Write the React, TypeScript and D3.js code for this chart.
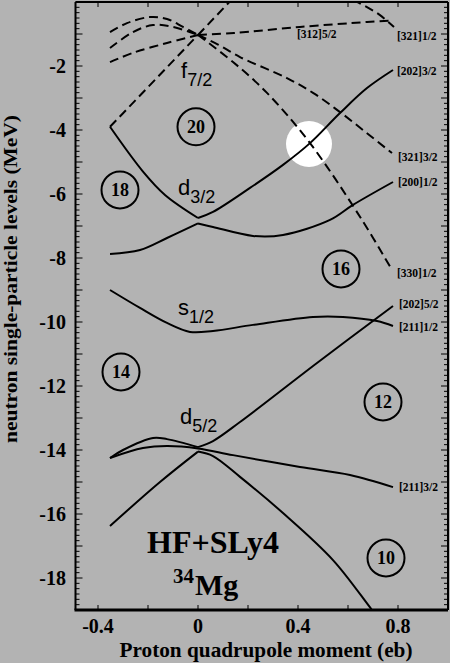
import React from 'react';
import * as d3 from 'd3';

type P = [number, number];

// ---- data: neutron single-particle levels (Q in eb, E in MeV) ----
const f72_330_12: P[] = [[-0.352, -0.94], [-0.284, -0.66], [-0.192, -0.47], [-0.124, -0.53], [-0.06, -0.78], [0, -1.03], [0.14, -1.875], [0.276, -2.84], [0.448, -4.41], [0.656, -6.81], [0.776, -8.375]];
const f72_321_32: P[] = [[-0.352, -1.44], [-0.26, -0.94], [-0.18, -0.72], [-0.1, -0.78], [0, -1.03], [0.08, -1.33], [0.168, -1.72], [0.356, -2.38], [0.46, -2.84], [0.568, -3.44], [0.676, -4.1], [0.776, -4.72]];
const f72_312_52: P[] = [[-0.352, -1.88], [-0.26, -1.59], [-0.124, -1.28], [0, -1.03], [0.144, -0.97], [0.408, -0.78], [0.676, -0.625], [0.776, -0.58]];
const f72_303_72: P[] = [[-0.352, -3.9], [0, -1.03], [0.15, 0.2]];
const p_321_12: P[] = [[0.568, 0.25], [0.62, 0.06], [0.676, -0.16], [0.728, -0.41], [0.784, -0.78]];
const d32_202_32: P[] = [[-0.352, -3.9], [-0.22, -5.3], [-0.132, -6.03], [0, -6.75], [0.06, -6.56], [0.208, -5.81], [0.34, -5.09], [0.448, -4.41], [0.568, -3.47], [0.676, -2.69], [0.78, -2.125]];
const d32_200_12: P[] = [[-0.352, -7.875], [-0.232, -7.75], [-0.124, -7.375], [0, -6.92], [0.06, -7.03], [0.22, -7.31], [0.34, -7.28], [0.528, -6.81], [0.62, -6.34], [0.78, -5.625]];
const s12_211_12: P[] = [[-0.352, -9.0], [-0.232, -9.56], [-0.124, -10.03], [-0.032, -10.31], [0.06, -10.28], [0.22, -10.09], [0.46, -9.84], [0.58, -9.84], [0.716, -9.97], [0.78, -10.125]];
const d52_202_52: P[] = [[-0.352, -14.25], [-0.3, -14.0], [-0.18, -13.625], [-0.124, -13.66], [0, -13.91], [0.06, -13.72], [0.168, -13.125], [0.476, -11.28], [0.78, -9.5]];
const d52_211_32: P[] = [[-0.352, -14.25], [-0.22, -13.94], [-0.124, -13.875], [0, -13.95], [0.14, -14.16], [0.408, -14.53], [0.608, -14.78], [0.78, -15.16]];
const d52_220_12: P[] = [[-0.352, -16.375], [-0.152, -15.0], [0, -14.05], [0.06, -14.19], [0.168, -14.84], [0.34, -15.97], [0.54, -17.44], [0.696, -19.0], [0.75, -19.54]];

const levels = [
  { pts: f72_330_12, dashed: true, kink: true },
  { pts: f72_321_32, dashed: true, kink: true },
  { pts: f72_312_52, dashed: true, kink: true },
  { pts: f72_303_72, dashed: true, kink: true },
  { pts: p_321_12, dashed: true, kink: false },
  { pts: d32_202_32, dashed: false, kink: true },
  { pts: d32_200_12, dashed: false, kink: true },
  { pts: s12_211_12, dashed: false, kink: false },
  { pts: d52_202_52, dashed: false, kink: true },
  { pts: d52_211_32, dashed: false, kink: false },
  { pts: d52_220_12, dashed: false, kink: true },
];

const nilssonLabels: [string, number, number][] = [
  ['[312]5/2', 0.396, -1.125],
  ['[321]1/2', 0.796, -1.19],
  ['[202]3/2', 0.796, -2.28],
  ['[321]3/2', 0.8, -4.97],
  ['[200]1/2', 0.8, -5.75],
  ['[330]1/2', 0.796, -8.59],
  ['[202]5/2', 0.804, -9.56],
  ['[211]1/2', 0.804, -10.28],
  ['[211]3/2', 0.804, -15.28],
];

const shellLabels: [string, string, number, number][] = [
  ['f', '7/2', -0.068, -2.375],
  ['d', '3/2', -0.08, -6.03],
  ['s', '1/2', -0.08, -9.78],
  ['d', '5/2', -0.072, -13.19],
];

const magicNumbers: [string, number, number][] = [
  ['20', -0.008, -3.9],
  ['18', -0.312, -5.875],
  ['16', 0.572, -8.34],
  ['14', -0.308, -11.56],
  ['12', 0.74, -12.5],
  ['10', 0.752, -17.375],
];

const highlight: P = [0.444, -4.44];

const xTickLabels = [-0.4, 0, 0.4, 0.8];
const yTickLabels = [-2, -4, -6, -8, -10, -12, -14, -16, -18];

const W = 450, H = 663;
const BG = '#b3b3b3';
const SERIF = '"Liberation Serif", "Times New Roman", serif';
const SANS = '"Liberation Sans", Arial, sans-serif';

export default function App() {
  const x = d3.scaleLinear().domain([-0.49, 1.0]).range([75.5, 448]);
  const y = d3.scaleLinear().domain([-19, 0]).range([610, 2]);
  const line = d3.line<P>().x(d => x(d[0])).y(d => y(d[1])).curve(d3.curveCatmullRom.alpha(0.5));

  const paths: { d: string; dashed: boolean }[] = [];
  levels.forEach(l => {
    if (l.kink) {
      const a = l.pts.filter(p => p[0] <= 0);
      const b = l.pts.filter(p => p[0] >= 0);
      if (a.length > 1) paths.push({ d: line(a) || '', dashed: l.dashed });
      if (b.length > 1) paths.push({ d: line(b) || '', dashed: l.dashed });
    } else {
      paths.push({ d: line(l.pts) || '', dashed: l.dashed });
    }
  });

  const x0 = x(-0.49), x1 = x(1.0), y0 = y(-19), y1 = y(0);

  const yMinor: { v: number; major: boolean }[] = [];
  for (let i = 0; i <= 19 * 6; i++) yMinor.push({ v: -19 + i / 6, major: i % 6 === 0 });
  const xMinor = [-0.4, -0.2, 0, 0.2, 0.4, 0.6, 0.8];

  return (
    <svg width={W} height={H} style={{ position: 'absolute', left: 0, top: 0, display: 'block' }}>
      <rect x={0} y={0} width={W} height={H} fill={BG} />
      <defs>
        <clipPath id="plot">
          <rect x={x0} y={y1} width={x1 - x0} height={y0 - y1} />
        </clipPath>
      </defs>
      <circle cx={x(highlight[0])} cy={y(highlight[1])} r={23} fill="#ffffff" />
      <g clipPath="url(#plot)">
        {paths.map((p, i) => (
          <path key={i} d={p.d} fill="none" stroke="#000" strokeWidth={2}
            strokeDasharray={p.dashed ? '9,5' : undefined} />
        ))}
      </g>
      {magicNumbers.map(([t, q, e], i) => (
        <g key={i}>
          <circle cx={x(q)} cy={y(e)} r={18.5} fill="none" stroke="#000" strokeWidth={2} />
          <text x={x(q)} y={y(e) + 6} textAnchor="middle" fontFamily={SERIF} fontWeight="bold" fontSize={18}>{t}</text>
        </g>
      ))}
      {shellLabels.map(([m, s, q, e], i) => (
        <text key={i} x={x(q)} y={y(e)} fontFamily={SANS} fontSize={22}>
          {m}<tspan fontSize={18} dy={8}>{s}</tspan>
        </text>
      ))}
      {nilssonLabels.map(([t, q, e], i) => (
        <text key={i} x={x(q)} y={y(e)} fontFamily={SERIF} fontWeight="bold" fontSize={11.5}>{t}</text>
      ))}
      <text x={147} y={553} fontFamily={SERIF} fontWeight="bold" fontSize={32}>HF+SLy4</text>
      <text x={173} y={583} fontFamily={SERIF} fontWeight="bold" fontSize={21}>34</text>
      <text x={195} y={595} fontFamily={SERIF} fontWeight="bold" fontSize={30}>Mg</text>

      {/* frame */}
      <line x1={x0} x2={x0} y1={y1} y2={y0} stroke="#000" strokeWidth={2} />
      <line x1={x1} x2={x1} y1={y1} y2={y0} stroke="#000" strokeWidth={2} />
      <line x1={x0} x2={x1} y1={y1} y2={y1} stroke="#000" strokeWidth={2} />
      <line x1={x0 - 1} x2={x1} y1={y0} y2={y0} stroke="#000" strokeWidth={3} />
      {yMinor.map((t, i) => (
        <g key={i}>
          <line x1={x0} x2={x0 + (t.major ? 7 : 4)} y1={y(t.v)} y2={y(t.v)} stroke="#000" strokeWidth={1} />
          <line x1={x1} x2={x1 - (t.major ? 7 : 4)} y1={y(t.v)} y2={y(t.v)} stroke="#000" strokeWidth={1} />
        </g>
      ))}
      {xMinor.map((v, i) => (
        <g key={i}>
          <line x1={x(v)} x2={x(v)} y1={y0} y2={y0 - 5} stroke="#000" strokeWidth={1} />
          <line x1={x(v)} x2={x(v)} y1={y1} y2={y1 + 5} stroke="#000" strokeWidth={1} />
        </g>
      ))}
      {yTickLabels.map((v, i) => (
        <text key={i} x={66} y={y(v) + 7} textAnchor="end" fontFamily={SERIF} fontWeight="bold" fontSize={20}>{v}</text>
      ))}
      {xTickLabels.map((v, i) => (
        <text key={i} x={x(v)} y={633} textAnchor="middle" fontFamily={SERIF} fontWeight="bold" fontSize={20}>{v}</text>
      ))}
      <text x={266} y={657} textAnchor="middle" fontFamily={SERIF} fontWeight="bold" fontSize={20}
        textLength={293} lengthAdjust="spacingAndGlyphs">Proton quadrupole moment (eb)</text>
      <text transform="translate(17,279) rotate(-90)" textAnchor="middle" fontFamily={SERIF} fontWeight="bold" fontSize={19}
        textLength={328} lengthAdjust="spacingAndGlyphs">neutron single-particle levels (MeV)</text>
    </svg>
  );
}
